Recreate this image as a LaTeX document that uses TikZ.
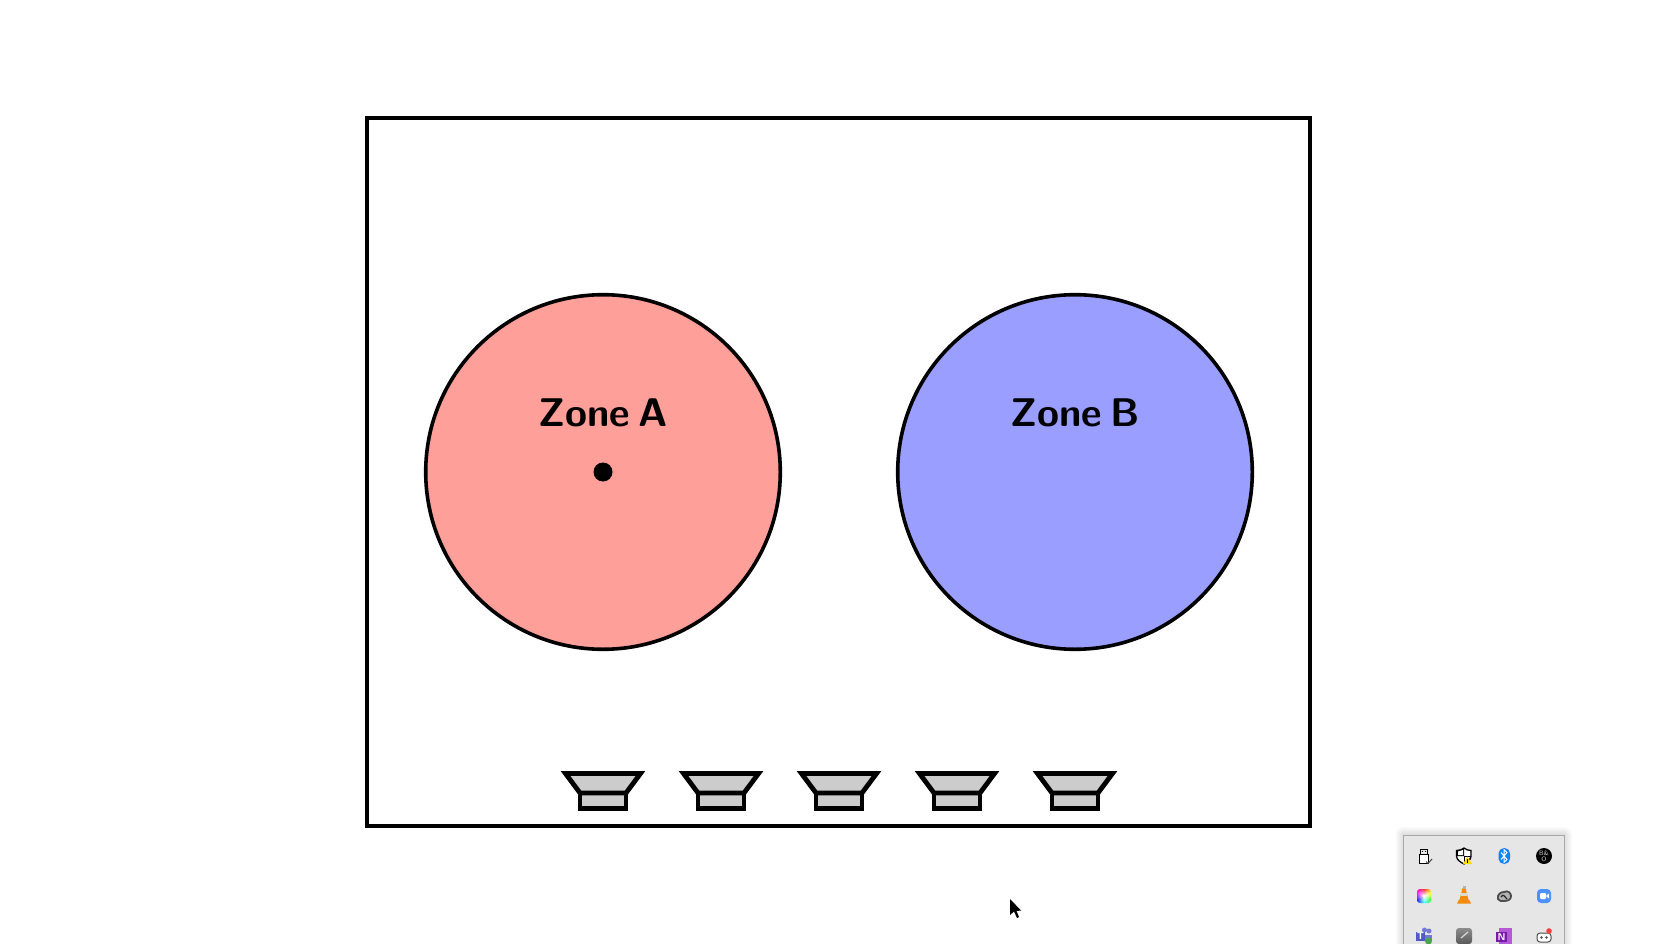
\documentclass[tikz,border=0pt]{standalone}
\usepackage{fontspec}
\usetikzlibrary{shadings}
\definecolor{zonea}{HTML}{FF9F99}
\definecolor{zoneb}{HTML}{9A9FFF}
\definecolor{spk}{HTML}{CCCCCC}
\definecolor{tray}{HTML}{E6E6E6}
\definecolor{trayedge}{HTML}{A8A8A8}
\definecolor{btblue}{HTML}{0A84FF}
\definecolor{zoomblue}{HTML}{4D90FE}
\definecolor{teamsblue}{HTML}{5059C9}
\definecolor{onelight}{HTML}{B45AD6}
\definecolor{onedark}{HTML}{7719AA}
\definecolor{vlcorange}{HTML}{F58A0B}
\newcommand{\zonetext}[1]{\spaceskip=.2em\relax #1}
\tikzset{
  zone/.style={draw=black,line width=3.6pt},
  zonelabel/.style={font=\sffamily\bfseries\fontsize{40}{42}\selectfont,text=black,inner sep=0pt,anchor=base},
  speakerpart/.style={draw=black,fill=spk,line width=4.8pt,miter limit=10,line join=miter},
  frameline/.style={draw=black,line width=4pt},
  thinicon/.style={draw=black,line width=1pt,fill=white},
  icontext/.style={text=white,font=\sffamily\bfseries\fontsize{10}{10}\selectfont,inner sep=0pt}
}
\begin{document}
\begin{tikzpicture}[x=1pt,y=-1pt]
\useasboundingbox (0,0) rectangle (1678,944);
\draw[frameline] (367,118) rectangle (1310,826);
% zones
\draw[zone,fill=zonea] (603,472) circle (177.3);
\draw[zone,fill=zoneb] (1075,472) circle (177.3);
\node[zonelabel] (za) at (603,426) {\zonetext{Zone A}};
\node[zonelabel] (zb) at (1075,426) {\zonetext{Zone B}};
\fill[black] (603,472) circle (9.5);
% speakers
\foreach \c in {603,721,839,957,1075}{
  \draw[speakerpart] (\c-23,793) rectangle (\c+23,808.5);
  \draw[speakerpart] (\c-37.5,773.5) -- (\c+37.5,773.5) -- (\c+23,793) -- (\c-23,793) -- cycle;
}
% cursor
\fill[black] (1010,899) -- (1010,915) -- (1014,911.5) -- (1017,918) -- (1019,917) -- (1016.5,911) -- (1021,910.5) -- cycle;
% tray shadow
\foreach \d in {8,7,...,1}{
  \fill[black,opacity=.016,rounded corners=\d pt] (1403.5-\d,835-\d) rectangle (1564+\d,960);
}
\draw[draw=trayedge,fill=tray,line width=1pt] (1403.5,835.5) rectangle (1564,960);
% usb
\draw[black,line width=1pt] (1420,849) rectangle (1427,854.5);
\draw[thinicon] (1419.5,854.5) rectangle (1428,863.5);
\fill[black] (1422,851) rectangle (1423,852);
\fill[black] (1424.5,851) rectangle (1425.5,852);
\draw[black!70,line width=1pt] (1426,861.5) -- (1428,863.5) -- (1432,859);
% shield
\draw[draw=black,fill=white,line width=1.3pt] (1456.5,850.5) .. controls (1460,850.5) and (1462,849.5) .. (1464,848) .. controls (1466,849.5) and (1468,850.5) .. (1471,850.5) -- (1471,856) .. controls (1471,860) and (1467,862.5) .. (1464,864) .. controls (1461,862.5) and (1456.5,860) .. (1456.5,856) -- cycle;
\fill[black] (1456.5,850.5) .. controls (1460,850.5) and (1462,849.5) .. (1464,848) -- (1464,856) -- (1456.5,856) -- cycle;
\fill[black] (1464,856) -- (1471,856) .. controls (1471,860) and (1467,862.5) .. (1464,864) -- cycle;
\fill[white] (1458,851.5) -- (1463,850) -- (1463,855) -- (1458,855) -- cycle;
\fill[white] (1465,857) -- (1470,857) -- (1468,860.5) -- (1465,862.5) -- cycle;
\fill[yellow!80!orange] (1463,864) -- (1467.5,856.5) -- (1472,864) -- cycle;
\fill[black] (1467,858.8) rectangle (1468,861.5);
\fill[black] (1467,862) rectangle (1468,863);
% bluetooth
\fill[btblue,rounded corners=5.5pt] (1498.5,848) rectangle (1510,864);
\draw[white,line width=1pt] (1501,852.5) -- (1507,859.5) -- (1504,862.5) -- (1504,849.5) -- (1507,852.5) -- (1501,859.5);
% bang
\fill[black] (1544,856) circle (8);
\node[text=black!20,font=\sffamily\fontsize{6.5}{5.5}\selectfont,inner sep=0pt,align=center] (bo) at (1544,856) {B\&\\O};
% photos
\begin{scope}
\clip[rounded corners=3pt] (1417,889) rectangle (1431,903);
\shade[shading=color wheel white center] (1424,896) circle (9);
\end{scope}
\fill[white!70!tray] (1424,896) circle (1.6);
% vlc
\fill[vlcorange] (1457,903.5) -- (1471,903.5) -- (1469,899.5) -- (1459,899.5) -- cycle;
\fill[vlcorange] (1459.5,900) -- (1462.5,888) -- (1465.5,888) -- (1468.5,900) -- cycle;
\fill[black!15] (1461,893) rectangle (1467,896);
\fill[black!30] (1462.5,885.5) rectangle (1465.5,888.5);
% creative cloud
\draw[black!70,fill=black!30,line width=1.8pt] (1498,899) .. controls (1497,894) and (1501,892) .. (1504,892) .. controls (1508,890) and (1511,893) .. (1511,896) .. controls (1511,900) and (1508,901) .. (1503,901) -- (1501,901) .. controls (1500,901) and (1499,900) .. (1498,899) -- cycle;
\draw[black!85,line width=1.2pt] (1501,897) .. controls (1503,893) and (1505,897) .. (1507,899);
% zoom
\fill[zoomblue,rounded corners=4pt] (1537,889) rectangle (1551,903);
\fill[white,rounded corners=1pt] (1540,893) rectangle (1546,899);
\fill[white] (1546,896) -- (1549,893.5) -- (1549,898.5) -- cycle;
% teams
\fill[teamsblue!80] (1429,931) circle (2.5);
\fill[teamsblue!80] (1425,935) rectangle (1432,941);
\fill[teamsblue!80] (1424.5,930) circle (2.5);
\fill[teamsblue] (1416,932) rectangle (1425,941);
\node[icontext] (tm) at (1420.5,936.5) {T};
\fill[green!50!black!70!white] (1428.5,941) circle (3.5);
% pen tile
\shade[top color=black!45,bottom color=black!65,rounded corners=3pt] (1456,928) rectangle (1472,944);
\draw[black!15,line width=1.2pt] (1461,938) -- (1468,932);
% onenote
\fill[onelight] (1499,928) rectangle (1512,944);
\fill[onedark] (1496,932) rectangle (1507,941.5);
\node[icontext] (on) at (1501.5,936.7) {N};
% discord
\draw[black!70,fill=white,line width=1pt,rounded corners=3pt] (1537,933) rectangle (1551,942);
\fill[black!70] (1541.5,937.5) circle (1.3);
\fill[black!70] (1546.5,937.5) circle (1.3);
\fill[red!75!white] (1549,931) circle (2.8);
\end{tikzpicture}
\end{document}
